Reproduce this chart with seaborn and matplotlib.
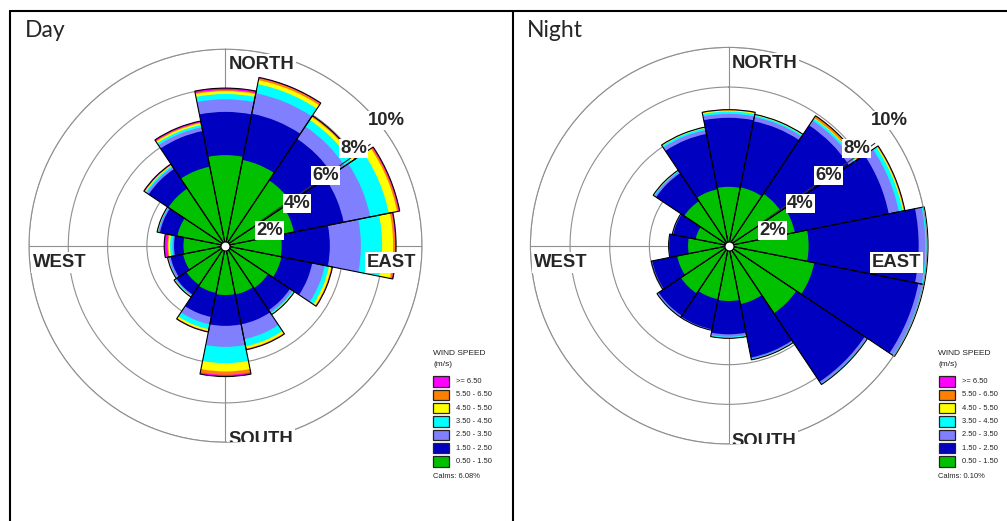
import numpy as np
import pandas as pd
import matplotlib
matplotlib.use("Agg")
import matplotlib.pyplot as plt
from matplotlib.patches import Rectangle
from matplotlib.lines import Line2D
import seaborn as sns

W, H = 1007, 521

directions = ["N", "NNE", "NE", "ENE", "E", "ESE", "SE", "SSE",
              "S", "SSW", "SW", "WSW", "W", "WNW", "NW", "NNW"]
speed_bins = ["0.50 - 1.50", "1.50 - 2.50", "2.50 - 3.50", "3.50 - 4.50",
              "4.50 - 5.50", "5.50 - 6.50", ">= 6.50"]
bin_colors = ["#00C000", "#0000C0", "#8080FF", "#00FFFF",
              "#FFFF00", "#FF8000", "#FF00FF"]

# Day: frequency (%) per direction (N, NNE, ... NNW) for each speed class
day_050_150 = [4.61, 4.45, 4.00, 3.55, 2.86, 2.90, 2.60, 2.53, 2.51, 2.45, 2.40, 2.20, 2.14, 2.50, 3.50, 4.10]
day_150_250 = [2.20, 2.40, 2.55, 2.58, 2.45, 1.60, 1.35, 1.55, 1.57, 1.25, 0.60, 0.65, 0.48, 0.90, 1.20, 1.85]
day_250_350 = [0.64, 1.06, 0.75, 1.38, 1.58, 0.65, 0.15, 0.77, 1.07, 0.38, 0.06, 0.10, 0.08, 0.08, 0.12, 0.20]
day_350_450 = [0.27, 0.47, 0.40, 0.96, 1.08, 0.22, 0.07, 0.37, 0.83, 0.25, 0.04, 0.03, 0.12, 0.03, 0.08, 0.12]
day_450_550 = [0.15, 0.21, 0.18, 0.43, 0.56, 0.12, 0.03, 0.12, 0.42, 0.10, 0.02, 0.01, 0.09, 0.02, 0.04, 0.09]
day_550_650 = [0.05, 0.10, 0.05, 0.08, 0.10, 0.03, 0.01, 0.04, 0.17, 0.01, 0.01, 0.01, 0.04, 0.01, 0.02, 0.04]
day_ge_650 = [0.10, 0.04, 0.03, 0.06, 0.05, 0.03, 0.01, 0.02, 0.09, 0.04, 0.02, 0.01, 0.17, 0.01, 0.04, 0.07]
day_calms = 6.08

# Night: frequency (%) per direction for each speed class
night_050_150 = [2.97, 3.00, 3.15, 3.40, 4.03, 4.40, 4.10, 3.00, 2.79, 2.75, 2.90, 2.65, 2.05, 1.70, 2.70, 2.90]
night_150_250 = [3.48, 3.40, 4.15, 4.83, 5.55, 5.35, 4.15, 2.75, 1.68, 1.55, 1.35, 1.28, 0.95, 1.15, 1.70, 2.85]
night_250_350 = [0.20, 0.22, 0.30, 0.52, 0.34, 0.20, 0.12, 0.07, 0.12, 0.03, 0.07, 0.04, 0.03, 0.04, 0.10, 0.20]
night_350_450 = [0.12, 0.08, 0.12, 0.20, 0.10, 0.08, 0.03, 0.03, 0.06, 0.02, 0.03, 0.01, 0.00, 0.01, 0.05, 0.10]
night_450_550 = [0.05, 0.03, 0.03, 0.05, 0.01, 0.02, 0.01, 0.02, 0.02, 0.00, 0.00, 0.00, 0.00, 0.00, 0.03, 0.03]
night_550_650 = [0.03, 0.02, 0.12, 0.05, 0.01, 0.00, 0.01, 0.00, 0.00, 0.00, 0.00, 0.00, 0.00, 0.00, 0.00, 0.02]
night_ge_650 = [0.01, 0.00, 0.01, 0.01, 0.01, 0.00, 0.00, 0.00, 0.00, 0.00, 0.00, 0.00, 0.00, 0.00, 0.00, 0.00]
night_calms = 0.10

ring_values = [2, 4, 6, 8, 10]
ring_labels = ["2%", "4%", "6%", "8%", "10%"]
compass_labels = ["NORTH", "EAST", "SOUTH", "WEST"]

sns.set_style("white")
plt.rcParams["font.family"] = ["Liberation Sans", "DejaVu Sans"]

GRID = "#8f8f8f"
BOLD = dict(family="Liberation Sans", weight="bold")


def tidy(columns):
    frame = pd.DataFrame(dict(zip(speed_bins, columns)), index=directions)
    frame.index.name = "direction"
    long = frame.reset_index().melt(id_vars="direction", var_name="speed", value_name="freq")
    long["theta"] = long["direction"].map(
        {d: np.deg2rad(i * 22.5) for i, d in enumerate(directions)})
    long["speed"] = pd.Categorical(long["speed"], speed_bins, ordered=True)
    long = long.sort_values(["direction", "speed"])
    long["cum"] = long.groupby("direction", observed=True)["freq"].cumsum()
    return long


def fx(x):
    return x / W


def fy(y):
    return 1 - y / H


def draw_rose(ax, data, radius_px):
    ax.set_theta_zero_location("N")
    ax.set_theta_direction(-1)
    ax.set_axisbelow(True)

    # stacked wedges: cumulative totals painted outermost first
    for i in reversed(range(len(speed_bins))):
        layer = data[data["speed"] == speed_bins[i]]
        sns.barplot(data=layer, x="theta", y="cum", native_scale=True, orient="x",
                    width=1.0, color=bin_colors[i], saturation=1, errorbar=None,
                    linewidth=0, edgecolor="none", ax=ax, zorder=2)
    outer = data[data["speed"] == speed_bins[-1]]
    sns.barplot(data=outer, x="theta", y="cum", native_scale=True, orient="x",
                width=1.0, fill=False, color="black", errorbar=None,
                linewidth=0.8, ax=ax, zorder=2.5)
    for p in ax.patches:
        p.set_clip_on(False)

    ax.set_xlabel("")
    ax.set_ylabel("")
    ax.set_ylim(0, 10)
    ax.set_xticks(np.deg2rad([0, 90, 180, 270]))
    ax.set_xticklabels([])
    ax.set_yticks(ring_values)
    ax.set_yticklabels([])
    ax.tick_params(length=0)
    ax.grid(True, color=GRID, linewidth=0.8)
    ax.spines["polar"].set_color(GRID)
    ax.spines["polar"].set_linewidth(0.8)

    ax.scatter([0], [0], s=42, color="white", edgecolors="black",
               linewidths=0.8, zorder=4, clip_on=False)

    # radial scale line and percentage labels
    ang = np.deg2rad(55)
    ax.plot([ang, ang], [2.0, 9.0], color="#333333", linewidth=0.8, zorder=3)
    offsets = [(44, -15), (71.5, -42.5), (100, -70), (128, -97), (161, -125)]
    for (dx, dy), lab in zip(offsets, ring_labels):
        ax.text(0.5 + dx / (2 * radius_px), 0.5 - dy / (2 * radius_px), lab,
                transform=ax.transAxes, ha="center", va="center", fontsize=13.3,
                zorder=6, bbox=dict(boxstyle="square,pad=0.06", fc="white", ec="none"),
                **BOLD)

    def compass(dx, base_dy, text, ha, clip=False):
        t = ax.text(0.5 + dx / (2 * radius_px), 0.5 - base_dy / (2 * radius_px), text,
                    transform=ax.transAxes, ha=ha, va="baseline", fontsize=13.3,
                    zorder=6, bbox=dict(boxstyle="square,pad=0.1", fc="white", ec="none"),
                    **BOLD)
        t.set_clip_path(None)
        if clip:
            t.set_clip_box(ax.bbox)
            t.set_clip_on(True)
        else:
            t.set_clip_on(False)
        return t

    compass(3, -0.898 * radius_px, compass_labels[0], "left")
    compass(radius_px - 5.5, 21, compass_labels[1], "right")
    compass(3, 1.01 * radius_px, compass_labels[2], "left", clip=True)
    compass(-radius_px + 3.5, 21, compass_labels[3], "left")


def draw_legend(fig, x0, calms):
    fig.text(fx(x0), fy(353.5), "WIND SPEED", fontsize=6.0, color="#222222",
             ha="left", va="center")
    fig.text(fx(x0), fy(364), "(m/s)", fontsize=6.0, color="#222222",
             ha="left", va="center")
    for k, i in enumerate(reversed(range(len(speed_bins)))):
        yc = 381.5 + k * 13.35
        fig.add_artist(Rectangle((fx(x0), fy(yc + 5.2)), 16 / W, 10.4 / H,
                                 transform=fig.transFigure, facecolor=bin_colors[i],
                                 edgecolor="#222222", linewidth=0.9))
        fig.text(fx(x0 + 23), fy(yc), speed_bins[i], fontsize=5.4, color="#222222",
                 ha="left", va="center")
    fig.text(fx(x0), fy(476.5), f"Calms: {calms:.2f}%", fontsize=5.4,
             color="#222222", ha="left", va="center")


day = tidy([day_050_150, day_150_250, day_250_350, day_350_450,
            day_450_550, day_550_650, day_ge_650])
night = tidy([night_050_150, night_150_250, night_250_350, night_350_450,
              night_450_550, night_550_650, night_ge_650])

fig = plt.figure(figsize=(W / 100, H / 100), dpi=100)

panels = [
    ("Day", day, day_calms, 225.5, 196.5, 25, 433.3),
    ("Night", night, night_calms, 728.7, 198.3, 527, 938.5),
]
for title, data, calms, cx, r, tx, lx in panels:
    cy = 245.7
    ax = fig.add_axes([fx(cx - r), fy(cy + r), 2 * r / W, 2 * r / H], projection="polar")
    draw_rose(ax, data, r)
    fig.text(fx(tx), fy(37.3), title, fontsize=16.5, family="Lato",
             ha="left", va="baseline")
    draw_legend(fig, lx, calms)

# panel frame
for xs, ys in [([10, W], [11, 11]), ([10, 10], [11, H]), ([512.5, 512.5], [11, H])]:
    fig.add_artist(Line2D([fx(v) for v in xs], [fy(v) for v in ys],
                          transform=fig.transFigure, color="black", linewidth=1.5))

fig.savefig("out.png", dpi=100)
